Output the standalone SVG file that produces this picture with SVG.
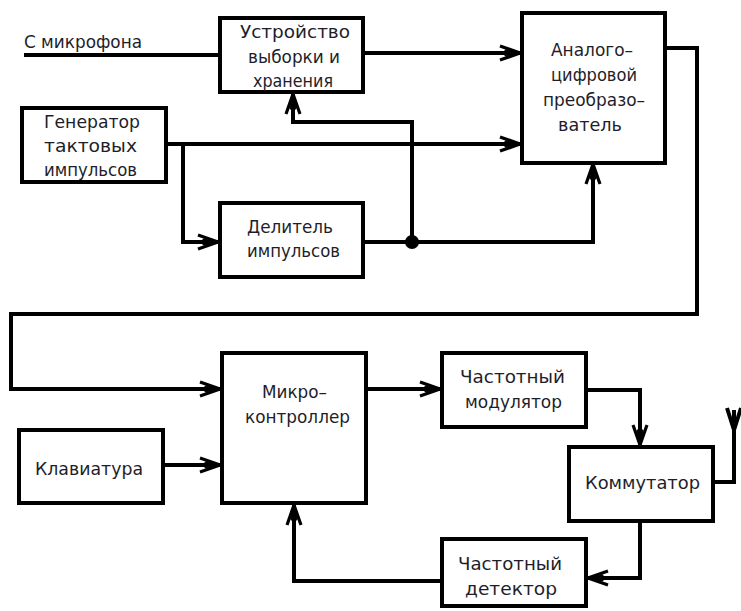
<svg xmlns="http://www.w3.org/2000/svg" width="741" height="611" viewBox="0 0 741 611">
<style>
.box{fill:#fff;stroke:#000;stroke-width:4}
.w{fill:none;stroke:#000;stroke-width:4;stroke-linejoin:miter}
.t{font-family:"DejaVu Sans Condensed","DejaVu Sans",sans-serif;font-size:18px;fill:#1e1e2a}
</style>
<defs>
<marker id="ah" markerUnits="userSpaceOnUse" markerWidth="30" markerHeight="20" viewBox="-22 -10 24 20" refX="0" refY="0" orient="auto" overflow="visible">
<path d="M-20,-7 L0,0 L-20,7" fill="none" stroke="#000" stroke-width="3.2"/>
<path d="M-15,-3 L0,0 L-15,3 Z" fill="#000" stroke="#000" stroke-width="1"/>
</marker>
</defs>
<rect width="741" height="611" fill="#fff"/>
<g id="connectors">
<path class="w" d="M24,55 H220"/>
<path class="w" d="M363,53 H520" marker-end="url(#ah)"/>
<path class="w" d="M166,144 H520" marker-end="url(#ah)"/>
<path class="w" d="M183,144 V242 H218" marker-end="url(#ah)"/>
<path class="w" d="M363,242 H593 V164" marker-end="url(#ah)"/>
<path class="w" d="M412,242 V122 H293 V94" marker-end="url(#ah)"/>
<circle cx="412" cy="242" r="7" fill="#000"/>
<path class="w" d="M665,48 H697 V314 H11 V389 H220" marker-end="url(#ah)"/>
<path class="w" d="M163,465 H220" marker-end="url(#ah)"/>
<path class="w" d="M366,389 H440" marker-end="url(#ah)"/>
<path class="w" d="M586,390 H640 V445" marker-end="url(#ah)"/>
<path class="w" d="M713,482 H734 V410"/>
<path class="w" d="M727,408 L734,430 L741,408"/>
<path class="w" d="M640,521 V578 H588" marker-end="url(#ah)"/>
<path class="w" d="M442,581 H294 V505" marker-end="url(#ah)"/>
</g>
<text class="t" x="24" y="48" textLength="118" lengthAdjust="spacingAndGlyphs">С микрофона</text>
<g id="uvh">
<rect class="box" x="220" y="18" width="143" height="74"/>
<text class="t" x="240" y="38" textLength="110" lengthAdjust="spacingAndGlyphs">Устройство</text>
<text class="t" x="248" y="63" textLength="92" lengthAdjust="spacingAndGlyphs">выборки и</text>
<text class="t" x="253" y="87" textLength="80" lengthAdjust="spacingAndGlyphs">хранения</text>
</g>
<g id="gen">
<rect class="box" x="22" y="108" width="144" height="74"/>
<text class="t" x="44" y="128" textLength="96" lengthAdjust="spacingAndGlyphs">Генератор</text>
<text class="t" x="44" y="152" textLength="93" lengthAdjust="spacingAndGlyphs">тактовых</text>
<text class="t" x="44" y="176" textLength="93" lengthAdjust="spacingAndGlyphs">импульсов</text>
</g>
<g id="adc">
<rect class="box" x="522" y="13" width="143" height="150"/>
<text class="t" x="551" y="56" textLength="82" lengthAdjust="spacingAndGlyphs">Аналого–</text>
<text class="t" x="551" y="81" textLength="86" lengthAdjust="spacingAndGlyphs">цифровой</text>
<text class="t" x="543" y="106" textLength="102" lengthAdjust="spacingAndGlyphs">преобразо–</text>
<text class="t" x="558" y="131" textLength="64" lengthAdjust="spacingAndGlyphs">ватель</text>
</g>
<g id="div">
<rect class="box" x="220" y="203" width="143" height="74"/>
<text class="t" x="247" y="233" textLength="86" lengthAdjust="spacingAndGlyphs">Делитель</text>
<text class="t" x="247" y="257" textLength="93" lengthAdjust="spacingAndGlyphs">импульсов</text>
</g>
<g id="mcu">
<rect class="box" x="222" y="353" width="144" height="150"/>
<text class="t" x="262" y="398" textLength="65" lengthAdjust="spacingAndGlyphs">Микро–</text>
<text class="t" x="245" y="423" textLength="105" lengthAdjust="spacingAndGlyphs">контроллер</text>
</g>
<g id="kbd">
<rect class="box" x="19" y="430" width="144" height="73"/>
<text class="t" x="35" y="475" textLength="108" lengthAdjust="spacingAndGlyphs">Клавиатура</text>
</g>
<g id="mod">
<rect class="box" x="442" y="353" width="144" height="74"/>
<text class="t" x="460" y="383" textLength="105" lengthAdjust="spacingAndGlyphs">Частотный</text>
<text class="t" x="465" y="408" textLength="97" lengthAdjust="spacingAndGlyphs">модулятор</text>
</g>
<g id="sw">
<rect class="box" x="569" y="447" width="144" height="74"/>
<text class="t" x="585" y="489" textLength="115" lengthAdjust="spacingAndGlyphs">Коммутатор</text>
</g>
<g id="det">
<rect class="box" x="442" y="539" width="144" height="67"/>
<text class="t" x="458" y="570" textLength="104" lengthAdjust="spacingAndGlyphs">Частотный</text>
<text class="t" x="465" y="595" textLength="92" lengthAdjust="spacingAndGlyphs">детектор</text>
</g>
</svg>
